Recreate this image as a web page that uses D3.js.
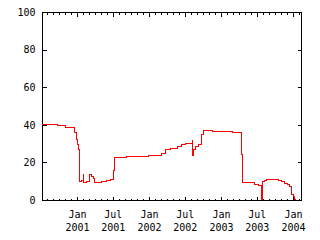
<!DOCTYPE html>
<html>
<head>
<meta charset="utf-8">
<script src="https://cdn.jsdelivr.net/npm/d3@7"></script>
<style>
  body { margin: 0; background: #fff; }
  svg { display: block; }
  text { font-family: "DejaVu Sans Mono", monospace; font-size: 10px; fill: #000; }
</style>
</head>
<body>
<svg width="320" height="240"></svg>
<script>
// step points: date the value starts, value
dates = [
  '2000-07-08', '2000-08-02', '2000-09-26', '2000-11-04', '2000-12-08',
  '2000-12-22', '2000-12-28', '2001-01-04', '2001-01-10', '2001-01-16',
  '2001-01-23', '2001-02-01', '2001-02-05', '2001-02-20', '2001-03-06',
  '2001-03-16', '2001-03-24', '2001-03-30', '2001-04-12', '2001-05-06',
  '2001-06-01', '2001-06-20', '2001-07-04', '2001-07-10', '2001-09-09',
  '2002-01-01', '2002-03-04', '2002-03-28', '2002-04-20', '2002-05-24',
  '2002-06-14', '2002-07-06', '2002-08-10', '2002-08-11', '2002-08-14',
  '2002-08-24', '2002-09-10', '2002-09-24', '2002-10-02', '2002-11-17',
  '2003-02-28', '2003-04-17', '2003-04-20', '2003-06-20', '2003-07-10',
  '2003-07-24', '2003-07-26', '2003-07-28', '2003-07-31', '2003-08-07',
  '2003-08-19', '2003-10-17', '2003-11-04', '2003-11-20', '2003-12-04',
  '2003-12-16', '2003-12-25', '2004-01-02', '2004-01-10', '2004-01-14'
]
values = [
  40.3, 39.9, 39.4, 38.8, 38.5,
  35.8, 32.3, 29.6, 26.6, 10.1,
  10.6, 13.3, 9.2, 9.6, 13.3,
  12.4, 11.2, 9.2, 9.4, 10.1,
  10.6, 11.0, 15.6, 22.7, 23.2,
  23.9, 24.8, 27.0, 27.5, 28.4,
  29.3, 29.8, 31.4, 23.6, 27.0,
  28.7, 29.3, 34.6, 36.9, 36.5,
  36.0, 24.3, 9.2, 8.3, 7.6,
  0.3, 7.6, 0.3, 9.7, 10.6,
  11.0, 10.6, 9.7, 8.9, 8.0,
  7.1, 2.7, 1.8, 0.4, 0.4
]
yTicks = [0, 20, 40, 60, 80, 100]
xTicks = ['2001-01-01', '2001-07-01', '2002-01-01', '2002-07-01', '2003-01-01', '2003-07-01', '2004-01-01']
xDomain = ['2000-07-08', '2004-02-10']
monthNames = ['Jan', 'Feb', 'Mar', 'Apr', 'May', 'Jun', 'Jul', 'Aug', 'Sep', 'Oct', 'Nov', 'Dec']

LEFT = 42
RIGHT = 301
TOP = 12
BOTTOM = 200

parse = d3.utcParse('%Y-%m-%d')
data = dates.map(function (d, i) { return {date: parse(d), value: values[i]}; })

x = d3.scaleUtc().domain(xDomain.map(parse)).range([LEFT, RIGHT])
y = d3.scaleLinear().domain([0, 100]).range([BOTTOM, TOP])

svg = d3.select('svg')

function clean(g) {
  g.select('.domain').remove()
  g.selectAll('line').attr('stroke', '#000').attr('shape-rendering', 'crispEdges')
}

// minor month ticks, bottom and top
svg.append('g')
  .attr('transform', 'translate(0,' + (BOTTOM + 0.5) + ')')
  .call(d3.axisBottom(x).ticks(d3.utcMonth.every(1)).tickSize(-2).tickFormat(''))
  .call(clean)
svg.append('g')
  .attr('transform', 'translate(0,' + (TOP + 0.5) + ')')
  .call(d3.axisTop(x).ticks(d3.utcMonth.every(1)).tickSize(-2).tickFormat(''))
  .call(clean)

// major ticks
bottomAxis = svg.append('g')
  .attr('transform', 'translate(0,' + (BOTTOM + 0.5) + ')')
  .call(d3.axisBottom(x).tickValues(xTicks.map(parse)).tickSize(-4).tickFormat(''))
  .call(clean)
svg.append('g')
  .attr('transform', 'translate(0,' + (TOP + 0.5) + ')')
  .call(d3.axisTop(x).tickValues(xTicks.map(parse)).tickSize(-4).tickFormat(''))
  .call(clean)

bottomAxis.selectAll('.tick text').remove()
bottomAxis.selectAll('.tick').each(function (d) {
  t = d3.select(this).append('text').attr('text-anchor', 'middle')
  t.append('tspan').attr('x', 0).attr('y', 17.5).text(monthNames[d.getUTCMonth()])
  t.append('tspan').attr('x', 0).attr('y', 30.5).text(d.getUTCFullYear())
})

svg.append('g')
  .attr('transform', 'translate(' + (LEFT + 0.5) + ',0)')
  .call(d3.axisLeft(y).tickValues(yTicks).tickSize(-4).tickPadding(7))
  .call(clean)
  .selectAll('text').attr('fill', '#000').style('font-size', '10px').style('font-family', '"DejaVu Sans Mono", monospace')
svg.append('g')
  .attr('transform', 'translate(' + (RIGHT + 0.5) + ',0)')
  .call(d3.axisRight(y).tickValues(yTicks).tickSize(-4).tickFormat(''))
  .call(clean)

// frame
svg.append('rect')
  .attr('x', LEFT + 0.5).attr('y', TOP + 0.5)
  .attr('width', RIGHT - LEFT).attr('height', BOTTOM - TOP)
  .attr('fill', 'none').attr('stroke', '#000').attr('shape-rendering', 'crispEdges')

line = d3.line()
  .x(function (d) { return x(d.date); })
  .y(function (d) { return y(d.value); })
  .curve(d3.curveStepAfter)

svg.append('path')
  .datum(data)
  .attr('d', line)
  .attr('fill', 'none')
  .attr('stroke', '#ff0000')
  .attr('stroke-width', 1)
  .attr('shape-rendering', 'crispEdges')
</script>
</body>
</html>
